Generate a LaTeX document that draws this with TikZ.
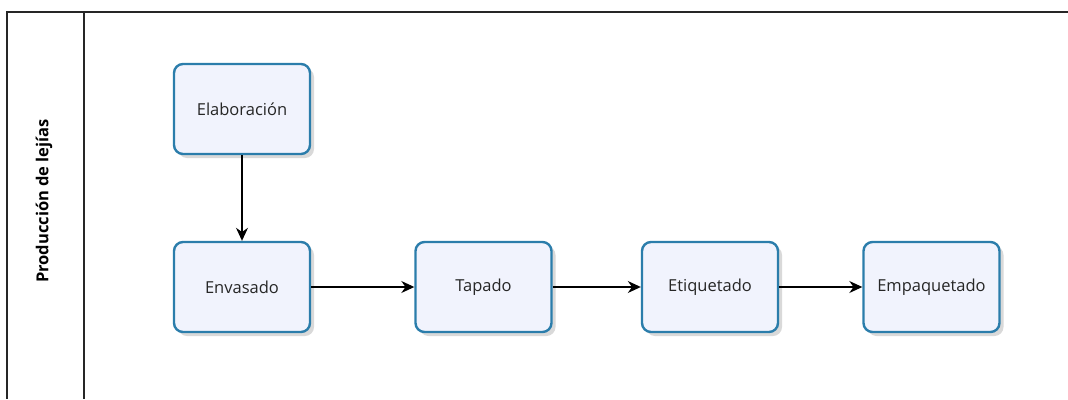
\documentclass[tikz,border=0pt]{standalone}
\usepackage{fontspec}
\setmainfont{Open Sans}
\usetikzlibrary{arrows.meta,shadows}
\definecolor{boxedge}{HTML}{2B7DAB}
\definecolor{boxfill}{HTML}{F1F3FD}
\tikzset{
  procbox/.style={draw=boxedge, line width=2.4pt, fill=boxfill, rounded corners=9pt,
    minimum width=136pt, minimum height=90pt, inner sep=0pt,
    font=\fontsize{16.5}{19}\selectfont, text=black!85,
    drop shadow={shadow xshift=4pt, shadow yshift=-4pt, opacity=0.15, fill=black}},
  flow/.style={line width=1.3pt, draw=black, -{Stealth[length=13pt,width=12pt]}},
  frame/.style={line width=1.5pt, draw=black!85}
}
\begin{document}
\begin{tikzpicture}[x=1pt,y=-1pt]
\useasboundingbox (0,0) rectangle (1068,399);
\draw[frame] (1068,12) -- (7,12) -- (7,399);
\draw[frame] (84,12) -- (84,399);
\node[rotate=90, font=\bfseries\fontsize{16.5}{19}\selectfont] (lane) at (44,201) {Producción de lejías};
\node[procbox] (elab) at (242,109) {Elaboración};
\node[procbox] (env) at (242,287) {Envasado};
\node[procbox] (tap) at (483.5,287) {Tapado};
\node[procbox] (eti) at (710,287) {Etiquetado};
\node[procbox] (emp) at (931.5,287) {Empaquetado};
\draw[flow] (elab) -- (env);
\draw[flow] (env) -- (tap);
\draw[flow] (tap) -- (eti);
\draw[flow] (eti) -- (emp);
\end{tikzpicture}
\end{document}
